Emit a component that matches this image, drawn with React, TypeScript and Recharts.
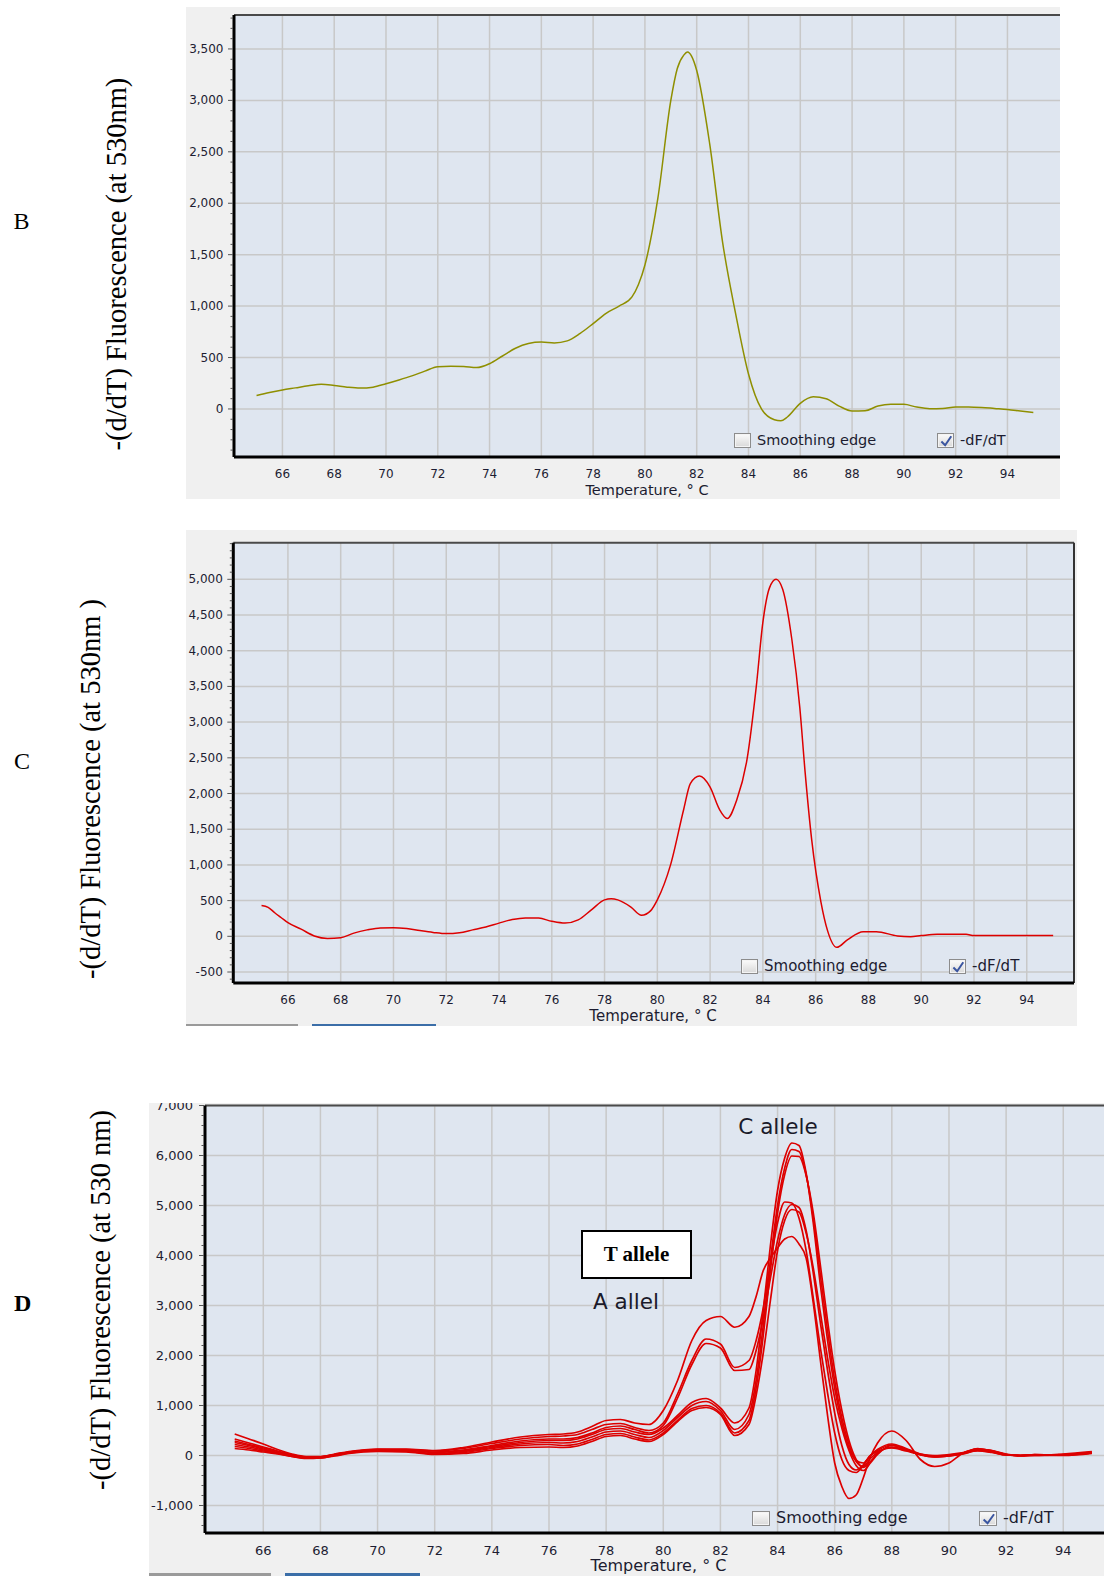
import { CartesianGrid, Line, LineChart, ReferenceLine, XAxis, YAxis } from "recharts";

// shared temperature ticks (°C)
const tempTicks = [66, 68, 70, 72, 74, 76, 78, 80, 82, 84, 86, 88, 90, 92, 94];

// ---- panel B ----
const bTemps = [
  65, 65.5, 66, 66.5, 67, 67.5, 68, 68.5, 69, 69.5, 70, 70.5, 71, 71.5, 72, 72.5, 73, 73.5, 74, 74.5,
  75, 75.5, 76, 76.5, 77, 77.5, 78, 78.5, 79, 79.5, 79.75, 80, 80.5, 81, 81.25, 81.5, 81.65, 81.8, 82, 82.5,
  83, 83.5, 84, 84.5, 85, 85.25, 85.5, 86, 86.5, 87, 87.5, 88, 88.5, 89, 89.5, 90, 90.5, 91, 91.5, 92,
  92.5, 93, 93.5, 94, 94.5, 95,
];
const bValues = [
  130, 160, 185, 205, 225, 240, 228, 212, 203, 212, 245, 282, 322, 368, 410, 415, 412, 402, 440, 515,
  590, 636, 650, 642, 662, 735, 830, 930, 1000, 1090, 1210, 1400, 2050, 3000, 3310, 3440, 3470, 3430, 3290, 2580,
  1620, 930, 340, 0, -105, -115, -78, 55, 118, 100, 28, -20, -18, 28, 45, 45, 18, 3, 5, 20,
  20, 15, 5, -5, -20, -35,
];
const bYTicks = [0, 500, 1000, 1500, 2000, 2500, 3000, 3500];

// ---- panel C ----
const cTemps = [
  65, 65.25, 65.5, 65.75, 66, 66.5, 67, 67.5, 68, 68.5, 69, 69.5, 70, 70.5, 71, 71.5, 72, 72.5, 73, 73.5,
  74, 74.5, 75, 75.5, 76, 76.5, 77, 77.5, 78, 78.25, 78.5, 79, 79.4, 79.75, 80, 80.5, 81, 81.25, 81.6, 82,
  82.35, 82.65, 83, 83.4, 83.75, 84, 84.25, 84.5, 84.75, 85.1, 85.4, 85.6, 85.85, 86.2, 86.45, 86.8, 87.2, 87.8,
  88.3, 89.1, 89.6, 90, 90.6, 91.7, 92, 95,
];
const cValues = [
  430, 405, 330, 260, 190, 100, 5, -30, -20, 45, 90, 118, 120, 108, 80, 55, 38, 50, 90, 130,
  185, 235, 258, 255, 210, 185, 230, 370, 510, 525, 510, 410, 295, 360, 510, 1000, 1780, 2140, 2245, 2090,
  1780, 1650, 1900, 2480, 3500, 4400, 4880, 5000, 4860, 4150, 3200, 2300, 1350, 480, 80, -155, -50, 65,
  65, 5, -5, 10, 28, 28, 10, 10,
];
const cYTicks = [-500, 0, 500, 1000, 1500, 2000, 2500, 3000, 3500, 4000, 4500, 5000];

// ---- panel D (seven samples) ----
const dTemps = [
  65, 65.5, 66, 66.5, 67, 67.5, 68, 68.5, 69, 70, 71, 72, 73, 74, 75, 76,
  76.5, 77, 77.5, 78, 78.5, 79, 79.5, 80, 80.5, 81, 81.5, 82, 82.5,
  83, 83.25, 83.5, 83.75, 84, 84.25, 84.5, 84.75, 85, 85.25, 85.5, 85.75, 86, 86.25, 86.5, 86.75, 87, 87.25, 87.5,
  88, 88.5, 89, 89.5, 90, 90.5, 91, 91.5, 92, 92.5, 93, 94, 95,
];
const dSample1 = [
  430, 330, 230, 120, 30, -20, -20, 30, 80, 130, 130, 100, 160, 270, 370, 420,
  430, 470, 580, 700, 720, 650, 620, 900, 1500, 2300, 2700, 2780, 2565,
  2780, 3180, 3700, 3950, 4150, 4330, 4380, 4230, 3950, 3050, 1900, 800, -150, -620, -860, -790, -450, -30, 250,
  490, 300, -80, -220, -150, 50, 130, 100, 20, -10, 0, 10, 60,
];
const dSample2 = [
  330, 250, 170, 90, 20, -30, -30, 20, 70, 120, 120, 90, 140, 240, 330, 380,
  390, 420, 520, 620, 640, 560, 500, 650, 1230, 1900, 2330, 2230, 1760,
  1900, 2300, 2950, 3850, 4650, 5070, 5050, 4750, 4100, 3150, 2150, 1250, 450, -80, -300, -340, -200, 0, 100,
  210, 120, 20, -30, -10, 40, 90, 60, 10, 0, 10, 0, 40,
];
const dSample3 = [
  290, 220, 150, 80, 10, -40, -40, 10, 60, 110, 110, 70, 110, 200, 290, 330,
  330, 360, 450, 560, 590, 520, 450, 600, 1150, 1820, 2240, 2150, 1700,
  1720, 2100, 2750, 3550, 4300, 4820, 5020, 4960, 4500, 3650, 2650, 1700, 850, 200, -180, -290, -190, 0, 120,
  230, 140, 30, -20, 0, 50, 110, 70, 10, 0, 20, 10, 50,
];
const dSample4 = [
  260, 200, 130, 60, 0, -40, -30, 20, 70, 120, 110, 60, 100, 180, 260, 300,
  300, 330, 420, 520, 540, 470, 420, 550, 800, 1060, 1140, 950, 650,
  950, 1700, 2900, 4200, 5300, 5950, 6250, 6200, 5650, 4650, 3400, 2300, 1350, 650, 150, -100, -150, 0, 80,
  150, 90, 20, 0, 20, 60, 120, 80, 10, 0, 10, 20, 70,
];
const dSample5 = [
  220, 170, 110, 50, -10, -50, -40, 10, 60, 100, 90, 40, 80, 160, 230, 260,
  250, 280, 370, 470, 490, 420, 360, 500, 760, 1000, 1080, 900, 520,
  820, 1500, 2600, 3900, 5000, 5750, 6120, 6080, 5620, 4750, 3600, 2500, 1500, 750, 220, -120, -220, -60, 60,
  160, 100, 30, -10, 10, 50, 140, 90, 20, 0, 0, 30, 80,
];
const dSample6 = [
  180, 140, 90, 40, -20, -50, -50, 0, 50, 90, 80, 30, 60, 140, 200, 220,
  200, 230, 320, 420, 440, 370, 310, 450, 700, 940, 1000, 850, 450,
  700, 1350, 2400, 3700, 4850, 5620, 5990, 5980, 5600, 4850, 3800, 2700, 1700, 900, 300, -80, -240, -120, 40,
  170, 110, 20, -20, 0, 40, 130, 100, 30, 0, 10, 20, 60,
];
const dSample7 = [
  140, 110, 70, 30, -20, -60, -50, -10, 40, 80, 70, 20, 40, 110, 160, 170,
  160, 190, 280, 380, 400, 330, 280, 420, 680, 900, 960, 820, 400,
  620, 1200, 2050, 3100, 4100, 4700, 4920, 4870, 4450, 3750, 2850, 1950, 1150, 550, 100, -200, -300, -150, 20,
  200, 120, 10, -30, -10, 30, 100, 70, 20, 0, 20, 10, 50,
];
const dSamples = [dSample1, dSample2, dSample3, dSample4, dSample5, dSample6, dSample7];
const dKeys = ["s1", "s2", "s3", "s4", "s5", "s6", "s7"];
const dYTicks = [-1000, 0, 1000, 2000, 3000, 4000, 5000, 6000, 7000];

const FONT = "'DejaVu Sans', Verdana, sans-serif";
const SERIF = "'Liberation Serif', 'Times New Roman', serif";
const TICK_COLOR = "#1d1d33";
const PLOT_BG = "#dfe6f0";
const PANEL_BG = "#f0f0f0";
const GRID = "#c8c8c8";

const bRows = bTemps.map((t, i) => ({ t, v: bValues[i] }));
const cRows = cTemps.map((t, i) => ({ t, v: cValues[i] }));
const dRows = dTemps.map((t, i) => {
  const row: Record<string, number> = { t };
  dKeys.forEach((k, j) => (row[k] = dSamples[j][i]));
  return row;
});

function withMinor(majors: number[], domain: [number, number], step: number) {
  const out: number[] = [];
  for (let v = Math.ceil(domain[0] / step) * step; v <= domain[1]; v += step) out.push(v);
  majors.forEach((m) => !out.includes(m) && out.push(m));
  return out.sort((a, b) => a - b);
}

type PanelProps = {
  rows: Record<string, number>[];
  keys: string[];
  color: string;
  lineWidth: number;
  width: number;
  height: number;
  plot: { top: number; right: number; bottom: number; left: number };
  xDomain: [number, number];
  yDomain: [number, number];
  yTicks: number[];
  minorStep: number;
  tickFont: number;
  labelGap: number;
  xLabelDy: number;
  rightBorder?: boolean;
};

function MeltChart(p: PanelProps) {
  const allY = withMinor(p.yTicks, p.yDomain, p.minorStep);
  const yTick = (props: any) => {
    const { x, y, payload } = props;
    const value = payload.value as number;
    const major = p.yTicks.includes(value);
    return (
      <g>
        <line x1={x - (major ? 6 : 3.5)} x2={x - 1} y1={y} y2={y} stroke="#555" strokeWidth={1} />
        {major && (
          <text
            x={x - p.labelGap}
            y={y}
            textAnchor="end"
            dominantBaseline="central"
            fontSize={p.tickFont}
            fontFamily={FONT}
            fill={TICK_COLOR}
          >
            {value.toLocaleString("en-US")}
          </text>
        )}
      </g>
    );
  };
  const xTick = (props: any) => {
    const { x, y, payload } = props;
    return (
      <text
        x={x}
        y={y + p.xLabelDy}
        textAnchor="middle"
        dominantBaseline="central"
        fontSize={p.tickFont}
        fontFamily={FONT}
        fill={TICK_COLOR}
      >
        {payload.value}
      </text>
    );
  };
  return (
    <LineChart
      width={p.width}
      height={p.height}
      data={p.rows}
      margin={{ top: p.plot.top, right: p.plot.right, bottom: 0, left: 0 }}
    >
      <CartesianGrid
        stroke={GRID}
        strokeWidth={1.5}
        fill={PLOT_BG}
        fillOpacity={1}
        horizontalValues={p.yTicks}
        verticalValues={tempTicks}
      />
      <XAxis
        dataKey="t"
        type="number"
        domain={p.xDomain}
        allowDataOverflow
        ticks={tempTicks}
        interval={0}
        height={p.plot.bottom}
        tickSize={0}
        tickMargin={0}
        tickLine={false}
        axisLine={{ stroke: "#000", strokeWidth: 3 }}
        tick={xTick}
      />
      <YAxis
        type="number"
        domain={p.yDomain}
        allowDataOverflow
        ticks={allY}
        interval={0}
        width={p.plot.left}
        tickSize={0}
        tickMargin={0}
        tickLine={false}
        axisLine={{ stroke: "#000", strokeWidth: 3 }}
        tick={yTick}
      />
      <ReferenceLine y={p.yDomain[1]} stroke="#4a4a4a" strokeWidth={2} ifOverflow="visible" />
      {p.rightBorder && (
        <ReferenceLine x={p.xDomain[1]} stroke="#333" strokeWidth={2} ifOverflow="visible" />
      )}
      {p.keys.map((k) => (
        <Line
          key={k}
          type="monotone"
          dataKey={k}
          stroke={p.color}
          strokeWidth={p.lineWidth}
          dot={false}
          isAnimationActive={false}
        />
      ))}
    </LineChart>
  );
}

function Txt({
  x,
  y,
  children,
  align = "center",
  style,
}: {
  x: number;
  y: number;
  children: React.ReactNode;
  align?: "left" | "center" | "right";
  style?: React.CSSProperties;
}) {
  const tx = align === "center" ? "-50%" : align === "right" ? "-100%" : "0";
  return (
    <div
      style={{
        position: "absolute",
        left: x,
        top: y,
        transform: `translate(${tx}, -50%)`,
        whiteSpace: "nowrap",
        lineHeight: 1,
        ...style,
      }}
    >
      {children}
    </div>
  );
}

function VLabel({ x, y, text }: { x: number; y: number; text: string }) {
  return (
    <div
      style={{
        position: "absolute",
        left: x,
        top: y,
        transform: "translate(-50%, -50%) rotate(-90deg)",
        whiteSpace: "nowrap",
        lineHeight: 1,
        fontFamily: SERIF,
        fontSize: 28.5,
        color: "#000",
      }}
    >
      {text}
    </div>
  );
}

function CheckBox({ x, y, w, h, checked }: { x: number; y: number; w: number; h: number; checked?: boolean }) {
  return (
    <div
      style={{
        position: "absolute",
        left: x,
        top: y,
        width: w,
        height: h,
        boxSizing: "border-box",
        border: "1px solid #8c8c8c",
        background: "linear-gradient(#fbfbfb, #d9d9d9)",
        boxShadow: "inset 0 0 0 1px #f4f4f4",
      }}
    >
      {checked && (
        <svg width={w - 2} height={h - 2} style={{ position: "absolute", left: 0, top: 0 }}>
          <path
            d={`M${w * 0.2} ${h * 0.5} L${w * 0.42} ${h * 0.75} L${w * 0.78} ${h * 0.15}`}
            stroke="#3a55a0"
            strokeWidth={2}
            fill="none"
          />
        </svg>
      )}
    </div>
  );
}

function Legend({ x1, x2, y, size, box }: { x1: number; x2: number; y: number; size: number; box: [number, number] }) {
  const [w, h] = box;
  const style = { fontFamily: FONT, fontSize: size, color: "#1c1c30" };
  return (
    <>
      <CheckBox x={x1} y={y - h / 2} w={w} h={h} />
      <Txt x={x1 + w + 6} y={y} align="left" style={style}>
        Smoothing edge
      </Txt>
      <CheckBox x={x2} y={y - h / 2} w={w} h={h} checked />
      <Txt x={x2 + w + 6} y={y} align="left" style={style}>
        -dF/dT
      </Txt>
    </>
  );
}

export default function App() {
  const titleStyle = { fontFamily: FONT, color: "#1c1c30" };
  return (
    <div
      style={{
        position: "absolute",
        left: 0,
        top: 0,
        width: 1104,
        height: 1576,
        overflow: "hidden",
        background: "#fff",
      }}
    >
      {/* Panel B */}
      <div style={{ position: "absolute", left: 186, top: 7, width: 874, height: 492, background: PANEL_BG, overflow: "hidden" }}>
        <MeltChart
          rows={bRows}
          keys={["v"]}
          color="#8f8f00"
          lineWidth={1.5}
          width={874}
          height={492}
          plot={{ top: 8, right: 0, bottom: 42, left: 48 }}
          xDomain={[64.13, 96.03]}
          yDomain={[-467, 3830]}
          yTicks={bYTicks}
          minorStep={100}
          tickFont={12}
          labelGap={10.5}
          xLabelDy={17}
        />
      </div>
      <Legend x1={734} x2={937} y={440} size={14.5} box={[17, 15]} />
      <Txt x={647} y={490} style={{ ...titleStyle, fontSize: 14.5 }}>
        Temperature, ° C
      </Txt>

      {/* Panel C */}
      <div style={{ position: "absolute", left: 186, top: 530, width: 891, height: 496, background: PANEL_BG, overflow: "hidden" }}>
        <MeltChart
          rows={cRows}
          keys={["v"]}
          color="#dd0000"
          lineWidth={1.5}
          width={891}
          height={496}
          plot={{ top: 12.7, right: 3, bottom: 43, left: 47.3 }}
          xDomain={[63.93, 95.79]}
          yDomain={[-654, 5513]}
          yTicks={cYTicks}
          minorStep={100}
          tickFont={12}
          labelGap={10.5}
          xLabelDy={17}
          rightBorder
        />
      </div>
      <Legend x1={741} x2={949} y={966} size={15} box={[17, 15]} />
      <Txt x={653} y={1015.5} style={{ ...titleStyle, fontSize: 15 }}>
        Temperature, ° C
      </Txt>
      <div style={{ position: "absolute", left: 186, top: 1024, width: 112, height: 2, background: "#9a9a9a" }} />
      <div style={{ position: "absolute", left: 312, top: 1024, width: 124, height: 2, background: "#3b6ea8" }} />

      {/* Panel D */}
      <div style={{ position: "absolute", left: 149, top: 1103, width: 955, height: 473, background: PANEL_BG, overflow: "hidden" }}>
        <MeltChart
          rows={dRows}
          keys={dKeys}
          color="#dd0000"
          lineWidth={1.7}
          width={980}
          height={473}
          plot={{ top: 2.5, right: 8.6, bottom: 43, left: 56 }}
          xDomain={[63.96, 96]}
          yDomain={[-1550, 7000]}
          yTicks={dYTicks}
          minorStep={200}
          tickFont={13}
          labelGap={12}
          xLabelDy={17.5}
        />
      </div>
      <Legend x1={752} x2={979} y={1518} size={16} box={[18, 15]} />
      <Txt x={658.5} y={1565.5} style={{ ...titleStyle, fontSize: 16 }}>
        Temperature, ° C
      </Txt>
      <div style={{ position: "absolute", left: 149, top: 1573, width: 122, height: 3, background: "#9a9a9a" }} />
      <div style={{ position: "absolute", left: 285, top: 1573, width: 135, height: 3, background: "#3b6ea8" }} />

      <Txt x={778} y={1127} style={{ fontFamily: FONT, fontSize: 21.5, color: "#1a1a2a" }}>
        C allele
      </Txt>
      <Txt x={626} y={1302} style={{ fontFamily: FONT, fontSize: 21.5, color: "#1a1a2a" }}>
        A allel
      </Txt>
      <div
        style={{
          position: "absolute",
          left: 581,
          top: 1230,
          width: 111,
          height: 49,
          boxSizing: "border-box",
          border: "2px solid #000",
          background: "#fff",
          display: "flex",
          alignItems: "center",
          justifyContent: "center",
          fontFamily: SERIF,
          fontWeight: "bold",
          fontSize: 21,
        }}
      >
        T allele
      </div>

      {/* panel letters and y titles */}
      <Txt x={21.6} y={221} style={{ fontFamily: SERIF, fontSize: 24 }}>B</Txt>
      <Txt x={22.1} y={761} style={{ fontFamily: SERIF, fontSize: 24 }}>C</Txt>
      <Txt x={22.6} y={1303} style={{ fontFamily: SERIF, fontSize: 24, fontWeight: "bold" }}>D</Txt>
      <VLabel x={116.6} y={263.5} text="-(d/dT) Fluorescence (at 530nm)" />
      <VLabel x={90.5} y={789} text="-(d/dT) Fluorescence (at 530nm )" />
      <VLabel x={100.5} y={1300} text="-(d/dT) Fluorescence (at 530 nm)" />
    </div>
  );
}
